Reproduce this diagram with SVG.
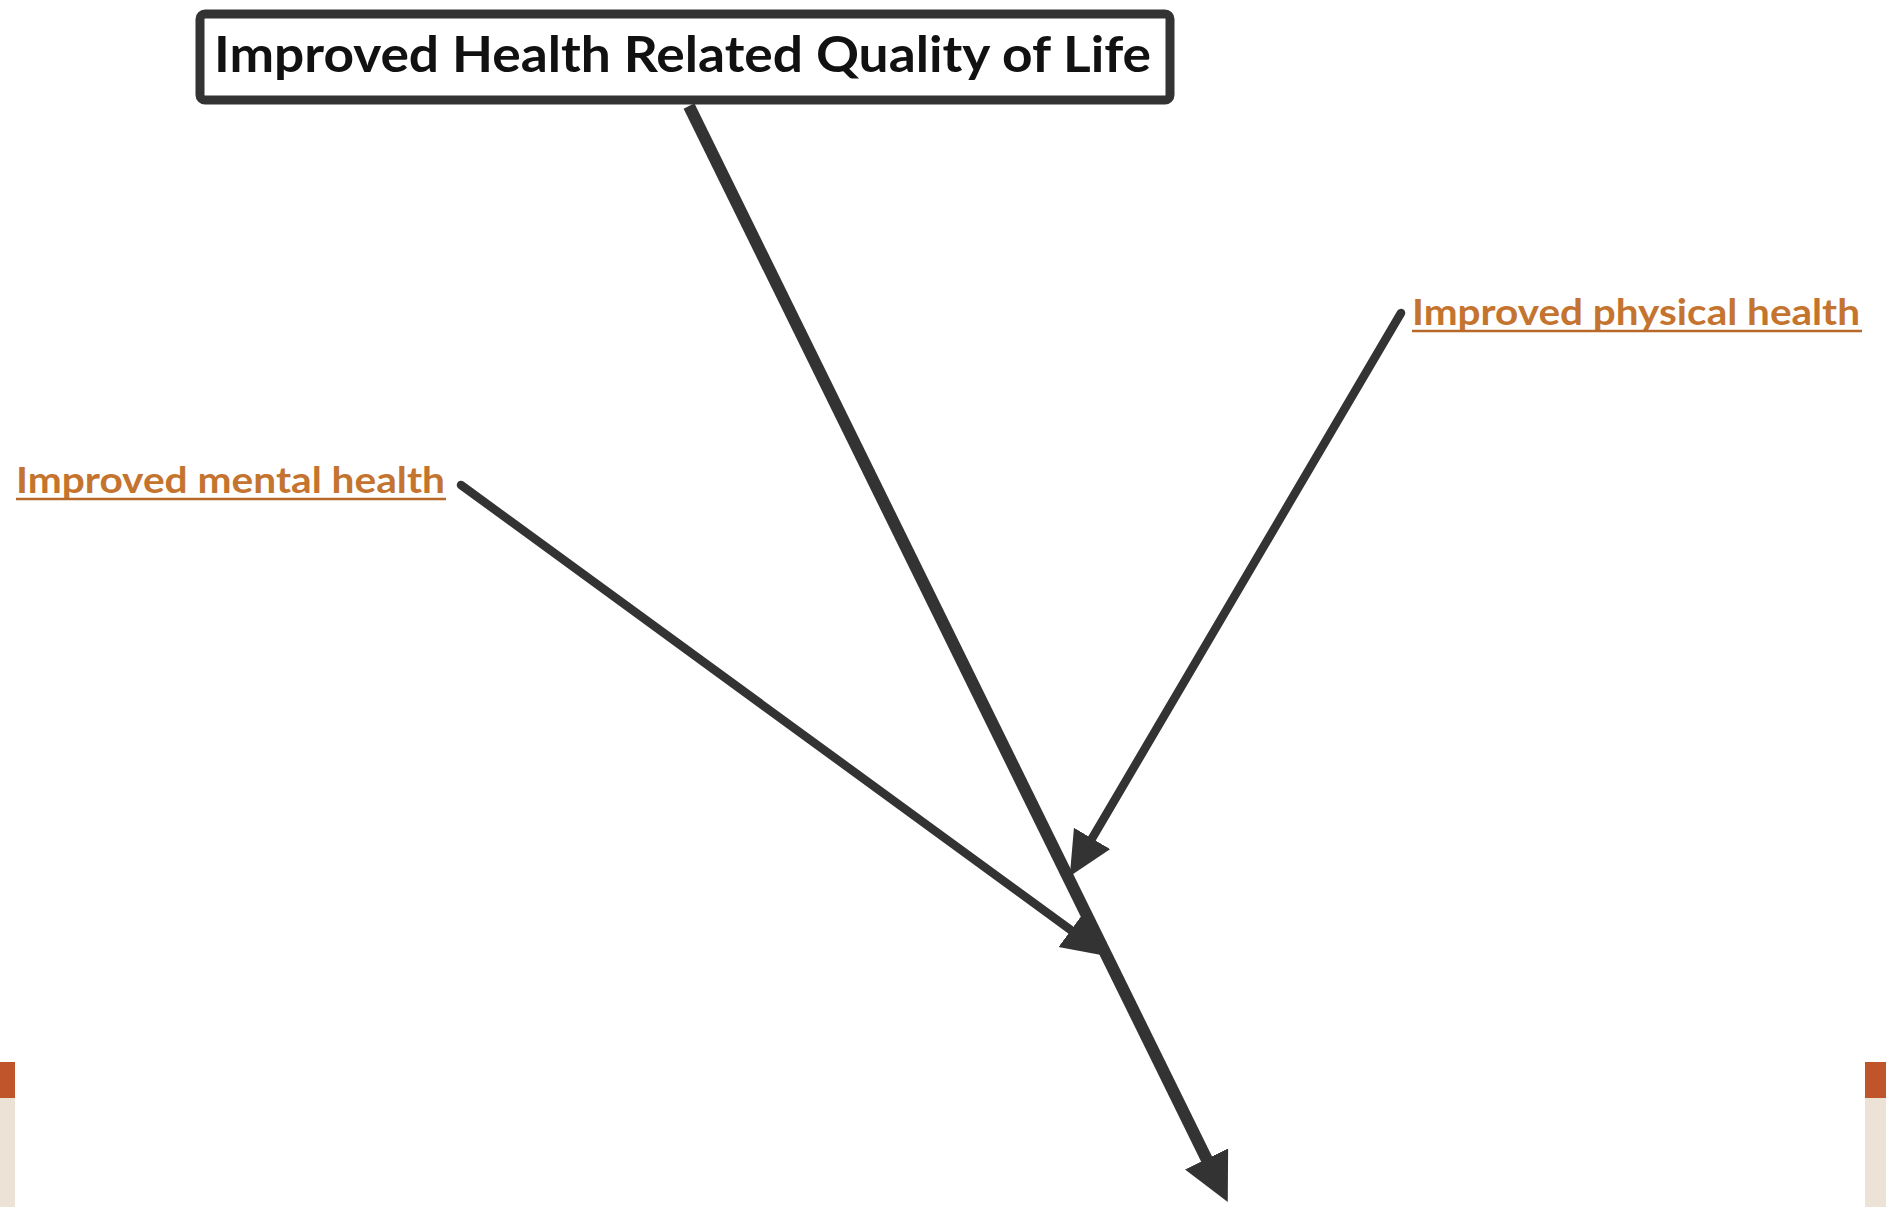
<svg xmlns="http://www.w3.org/2000/svg" width="1886" height="1207" viewBox="0 0 1886 1207">
  <style>
    .title { font-family: Lato, "Open Sans", "Liberation Sans", sans-serif; font-weight: bold; font-size: 50px; fill: #111; }
    .label { font-family: Lato, "Open Sans", "Liberation Sans", sans-serif; font-weight: bold; font-size: 37px; fill: #C4742F; }
    .uline { stroke: #B8692A; stroke-width: 2.5; }
    .conn { fill: none; stroke: #333333; }
  </style>
  <defs>
    <marker id="headBig" markerUnits="userSpaceOnUse" markerWidth="50" markerHeight="50" refX="10" refY="24" orient="auto" viewBox="0 0 50 50">
      <path d="M0,0 L48,24 L0,48 z" fill="#333333"/>
    </marker>
    <marker id="headSmall" markerUnits="userSpaceOnUse" markerWidth="46" markerHeight="46" refX="10" refY="21" orient="auto" viewBox="0 0 46 46">
      <path d="M0,0 L44,21 L0,42 z" fill="#333333"/>
    </marker>
  </defs>
  <rect width="1886" height="1207" fill="#ffffff"/>
  <g id="strips">
    <rect x="0" y="1062" width="15" height="36" fill="#C0552B"/>
    <rect x="0" y="1098" width="15" height="109" fill="#EDE2D6"/>
    <rect x="1865" y="1062" width="21" height="36" fill="#C0552B"/>
    <rect x="1865" y="1098" width="21" height="109" fill="#EDE2D6"/>
  </g>
  <g id="connectors">
    <line class="conn" x1="689" y1="106" x2="1211" y2="1168" stroke-width="12" marker-end="url(#headBig)"/>
    <line class="conn" x1="1401" y1="313" x2="1087" y2="847" stroke-width="8.5" stroke-linecap="round" marker-end="url(#headSmall)"/>
    <line class="conn" x1="461" y1="485" x2="1079" y2="936" stroke-width="8.5" stroke-linecap="round" marker-end="url(#headSmall)"/>
  </g>
  <g id="node-hrqol">
    <rect x="200" y="14" width="970" height="86" rx="5" fill="#ffffff" stroke="#333333" stroke-width="9"/>
    <text class="title" x="214" y="72" textLength="937" lengthAdjust="spacingAndGlyphs">Improved Health Related Quality of Life</text>
  </g>
  <g id="node-physical">
    <text class="label" x="1412" y="325" textLength="448" lengthAdjust="spacingAndGlyphs">Improved physical health</text>
    <line class="uline" x1="1412" y1="331" x2="1862" y2="331"/>
  </g>
  <g id="node-mental">
    <text class="label" x="16" y="493" textLength="429" lengthAdjust="spacingAndGlyphs">Improved mental health</text>
    <line class="uline" x1="16" y1="499" x2="446" y2="499"/>
  </g>
</svg>
